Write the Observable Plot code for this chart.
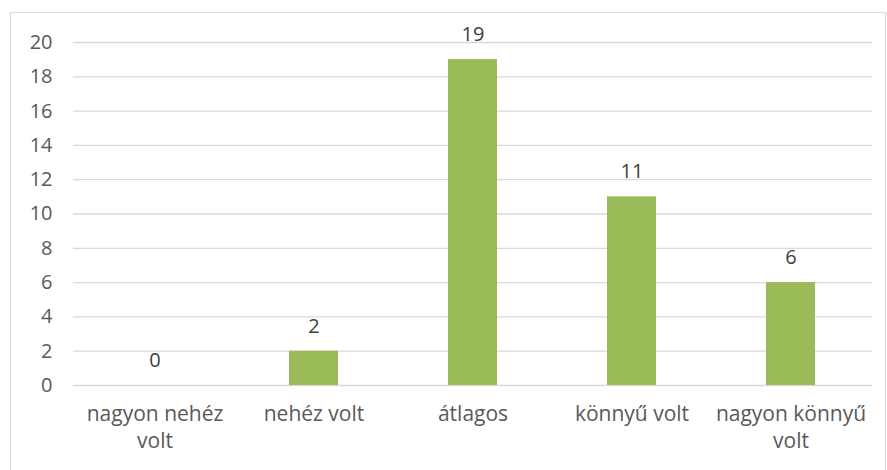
<!DOCTYPE html>
<html>
<head>
<meta charset="utf-8">
<script src="https://cdn.jsdelivr.net/npm/d3@7"></script>
<script src="https://cdn.jsdelivr.net/npm/@observablehq/plot@0.6"></script>
<style>
  html, body { margin: 0; padding: 0; background: #fff; overflow: hidden; }
  #wrap { position: relative; width: 887px; height: 470px; }
  #border { position: absolute; left: 10px; top: 12px; width: 876px; height: 470px; border: 1px solid #d9d9d9; box-sizing: border-box; }
  #chart { position: absolute; left: 0; top: 0; }
</style>
</head>
<body>
<div id="wrap">
  <div id="border"></div>
  <div id="chart"></div>
</div>
<script>
const categories = ["nagyon nehéz volt", "nehéz volt", "átlagos", "könnyű volt", "nagyon könnyű volt"];
const tickLabels = ["nagyon nehéz\nvolt", "nehéz volt", "átlagos", "könnyű volt", "nagyon könnyű\nvolt"];
const values = [0, 2, 19, 11, 6];
const yTicks = [0, 2, 4, 6, 8, 10, 12, 14, 16, 18, 20];

const data = categories.map((c, i) => ({category: c, value: values[i]}));
const labelOf = new Map(categories.map((c, i) => [c, tickLabels[i]]));

const chart = Plot.plot({
  width: 887,
  height: 470,
  marginLeft: 73,
  marginRight: 15,
  marginTop: 42,
  marginBottom: 85,
  style: {fontFamily: "Open Sans, sans-serif", fontSize: "20px", color: "#595959", background: "transparent"},
  x: {domain: categories, paddingInner: 0.69, paddingOuter: 0.345, label: null},
  y: {domain: [0, 20], label: null},
  marks: [
    Plot.gridY(yTicks, {stroke: "#d9d9d9", strokeOpacity: 1, strokeWidth: 1.3}),
    Plot.axisY(yTicks, {tickSize: 0, tickPadding: 21, label: null, fill: "#595959", fontSize: 20}),
    Plot.axisX({tickSize: 0, tickPadding: 16, tickFormat: d => labelOf.get(d), lineHeight: 1.29, label: null, fill: "#595959", fontSize: 21}),
    Plot.barY(data, {x: "category", y: "value", fill: "#9bbb59"}),
    Plot.text(data, {x: "category", y: "value", text: d => String(d.value), dy: -25, fill: "#404040", fontSize: 20})
  ]
});
document.getElementById("chart").appendChild(chart);
</script>
</body>
</html>
